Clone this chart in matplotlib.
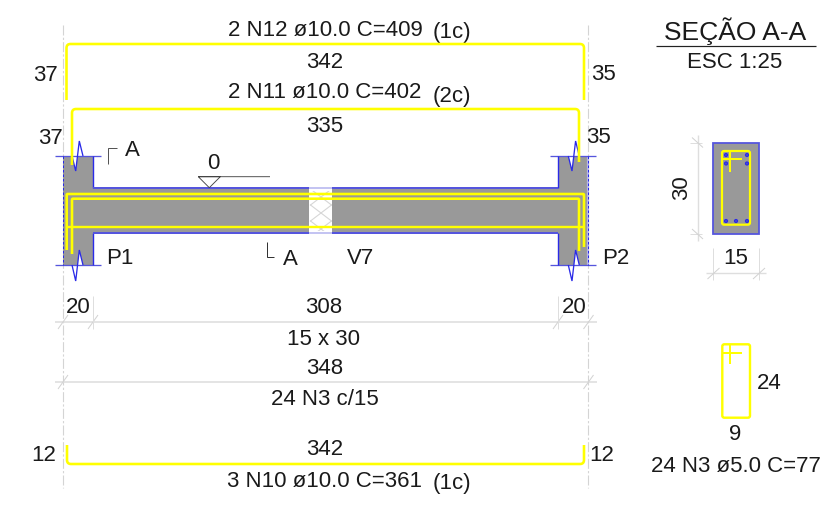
import matplotlib
matplotlib.use('Agg')
import matplotlib.pyplot as plt
from matplotlib.path import Path
from matplotlib.patches import PathPatch, Polygon, Rectangle, Circle, FancyBboxPatch

plt.rcParams['font.family'] = ['Liberation Sans', 'DejaVu Sans']

YELLOW = '#ffff00'
BLUE = '#2a2ae8'
LAVENDER = '#5555dd'
GREY = '#999999'
DIM = '#dedede'
TICK = '#d2d2d2'
INK = '#1a1a1a'

# labels
rebar_labels = ['2 N12 ø10.0 C=409', '2 N11 ø10.0 C=402', '3 N10 ø10.0 C=361']
rebar_layers = ['(1c)', '(2c)', '(1c)']
rebar_lengths = ['342', '335', '342']
hook_left = ['37', '37', '12']
hook_right = ['35', '35', '12']
span_labels = ['20', '308', '20']
beam_label = '15 x 30'
total_label = '348'
stirrup_label = '24 N3 c/15'
stirrup_detail = '24 N3 ø5.0 C=77'
section_title = 'SEÇÃO A-A'
section_scale = 'ESC 1:25'
section_sizes = ['30', '15']
stirrup_sizes = ['24', '9']
element_labels = ['P1', 'V7', 'P2']

# drawing geometry, in reference pixels
col_left = [63, 93]
col_right = [558, 588.5]
col_y = [156, 265]
beam_y = [188, 233]
gap_x = [309.5, 332.5]
bar_x_outer = [66.7, 584]
bar_x_inner = [72, 579]

fig = plt.figure(figsize=(8.28, 5.16), dpi=100)
ax = fig.add_axes([0, 0, 1, 1])
ax.set_xlim(0, 828)
ax.set_ylim(516, 0)
ax.axis('off')


def px(w):
    return w * 0.72


def poly(xs, ys, color, w=1.0, z=3, ls='-', alpha=1.0):
    ax.plot(xs, ys, color=color, lw=px(w), zorder=z, ls=ls, alpha=alpha,
            solid_capstyle='butt', solid_joinstyle='miter')


def bent(pts, color=YELLOW, w=2.6, r=4, z=5):
    # polyline with rounded corners, as the rebar is drawn
    verts = [pts[0]]
    codes = [Path.MOVETO]
    for i in range(1, len(pts) - 1):
        x0, y0 = pts[i - 1]
        x1, y1 = pts[i]
        x2, y2 = pts[i + 1]
        a = ((x0 - x1) ** 2 + (y0 - y1) ** 2) ** 0.5
        b = ((x2 - x1) ** 2 + (y2 - y1) ** 2) ** 0.5
        verts += [(x1 + (x0 - x1) * r / a, y1 + (y0 - y1) * r / a), (x1, y1),
                  (x1 + (x2 - x1) * r / b, y1 + (y2 - y1) * r / b)]
        codes += [Path.LINETO, Path.CURVE3, Path.CURVE3]
    verts.append(pts[-1])
    codes.append(Path.LINETO)
    ax.add_patch(PathPatch(Path(verts, codes), fill=False, edgecolor=color,
                           lw=px(w), zorder=z, capstyle='butt'))


def label(x, y, s, size=16.0, **kw):
    ax.text(x, y + 1.5, s, fontsize=size, color=INK, ha='center', va='center', **kw)


def dim_h(y, x0, x1, ticks):
    poly([x0, x1], [y, y], DIM, 1.6, z=1)
    for t in ticks:
        poly([t - 5, t + 5], [y + 7, y - 7], TICK, 1.0, z=1)


def stirrup(x, y, w, h, lw):
    ax.add_patch(FancyBboxPatch((x + 2, y + 2), w - 4, h - 4, boxstyle='round,pad=2,rounding_size=2',
                                fc='none', ec=YELLOW, lw=px(lw), zorder=3))


# faint reference lines at the column faces
for x in (col_left[0], col_right[1]):
    ax.plot([x, x], [25, 488], color='#d4d4d4', lw=0.8, ls=(0, (9, 2, 2, 2)), zorder=0)

# concrete: beam and the two columns, broken off by the zigzag
ax.add_patch(Rectangle((col_left[1] - 1, beam_y[0]), col_right[0] - col_left[1] + 2,
                       beam_y[1] - beam_y[0], fc=GREY, ec='none', zorder=1))
for left, zx in ((col_left, 72), (col_right, 568.3)):
    ax.add_patch(Polygon([(left[0], col_y[0]), (zx, col_y[0]), (zx + 3.7, col_y[0] + 15),
                          (zx + 5.5, col_y[0]), (left[1], col_y[0]), (left[1], col_y[1]),
                          (zx + 11, col_y[1]), (zx + 7.3, col_y[1] - 15),
                          (zx + 5.5, col_y[1]), (left[0], col_y[1])],
                         fc=GREY, ec='none', zorder=1))

    # break lines
    poly([zx, zx + 3.7, zx + 7.3, zx + 11],
         [col_y[0], col_y[0] + 15, col_y[0] - 15, col_y[0]], BLUE, 1.3, z=4)
    poly([zx, zx + 3.7, zx + 7.3, zx + 11],
         [col_y[1], col_y[1] + 16, col_y[1] - 15, col_y[1]], BLUE, 1.3, z=4)
    for y in col_y:
        poly([left[0] - 8, left[1] + 8], [y, y], LAVENDER, 1.3, z=3)

# outlines of the columns and beam
poly([col_left[1], col_left[1]], [col_y[0], beam_y[0]], BLUE, 1.4, z=3)
poly([col_left[1], col_left[1]], [beam_y[1], col_y[1]], BLUE, 1.4, z=3)
poly([col_right[0], col_right[0]], [col_y[0], beam_y[0]], BLUE, 1.4, z=3)
poly([col_right[0], col_right[0]], [beam_y[1], col_y[1]], BLUE, 1.4, z=3)
for y in beam_y:
    poly([col_left[1], col_right[0]], [y, y], LAVENDER, 2.0, z=3)
poly([col_left[0], col_left[0]], col_y, BLUE, 1.0, z=3, ls=(0, (2.5, 2)))
poly([col_right[1], col_right[1]], col_y, '#b5b5e8', 2.2, z=2)
poly([col_right[1], col_right[1]], col_y, BLUE, 1.0, z=3, ls=(0, (2.5, 2)))

# hatched opening in the beam
ax.add_patch(Rectangle((gap_x[0], beam_y[0] - 1), gap_x[1] - gap_x[0], beam_y[1] - beam_y[0] + 2,
                       fc='white', ec='none', zorder=2))
for k in range(-2, 3):
    y0 = beam_y[0] + 1 + k * 16
    for sign in (1, -1):
        xs = [gap_x[0] + 1, gap_x[1] - 1]
        ys = [y0, y0 + 16] if sign > 0 else [y0 + 16, y0]
        line, = ax.plot(xs, ys, color='#d6d6d6', lw=0.8, zorder=3)
        line.set_clip_path(Rectangle((gap_x[0], beam_y[0] + 3), gap_x[1] - gap_x[0],
                                     beam_y[1] - beam_y[0] - 5, transform=ax.transData))
for y in beam_y:
    poly(gap_x, [y, y], '#c4c4f2', 2.0, z=3)

# rebar in the elevation
bent([(bar_x_outer[0], 250), (bar_x_outer[0], 194), (bar_x_outer[1], 194), (bar_x_outer[1], 247)], r=1)
bent([(bar_x_inner[0], 254), (bar_x_inner[0], 198.7), (bar_x_inner[1], 198.7), (bar_x_inner[1], 251)], r=1)
poly([bar_x_outer[0], 583.5], [227, 227], YELLOW, 2.4, z=5)

# rebar shapes above and below
bent([(66.5, 100), (66.5, 44), (584, 44), (584, 100)])
bent([(72, 165), (72, 109), (579, 109), (579, 162)])
bent([(67, 445), (67, 464), (584, 464), (584, 445)])

# level mark
poly([198.3, 220.3, 209.3, 198.3, 270], [176.7, 176.7, 187.7, 176.7, 176.7], '#444444', 0.9, z=4)
label(213, 162, '0')

# section marks
poly([108.3, 108.3, 116.7], [164, 147.7, 147.7], '#555555', 1.0)
poly([266.7, 266.7, 274], [241.7, 257.3, 257.3], '#333333', 1.0)
label(132, 149, 'A')
label(290, 258, 'A')

# rebar text
for y, y2, yl, s, layer, length in zip((29, 91, 480), (31, 95, 482), (61, 125, 448),
                                       rebar_labels, rebar_layers, rebar_lengths):
    label(325, y, s)
    label(452, y2, layer)
    label(325, yl, length)
for x, y, s in zip((45, 50, 44), (74, 137, 454), hook_left):
    label(x, y, s)
for x, y, s in zip((603, 598, 602), (73, 136, 454), hook_right):
    label(x, y, s)
for x, s in zip((120, 361, 616), element_labels):
    label(x, 257, s)

# dimension lines
dim_h(322, 55, 597, [col_left[0], col_left[1], col_right[0], col_right[1]])
dim_h(382, 55, 597, [col_left[0], col_right[1]])
for x in (col_left[1], col_right[0]):
    poly([x, x], [296, 329], DIM, 1.0, z=1)
for x, s in zip((78, 324, 574), span_labels):
    label(x, 306, s)
label(324, 338, beam_label)
label(325, 367, total_label)
label(325, 398, stirrup_label)

# section A-A
label(735, 30, section_title, size=19)
poly([656, 816], [46, 46], '#222222', 1.2)
label(735, 61, section_scale, size=16)

ax.add_patch(Rectangle((713.5, 142.5), 45.5, 91.5, fc=GREY, ec=LAVENDER, lw=px(1.8), zorder=1))
stirrup(722, 151, 28, 73.7, 2.2)
poly([722, 741.7], [159, 159], YELLOW, 2.0, z=3)
poly([730, 730], [151, 171.7], YELLOW, 2.0, z=3)
for cx, cy in [(726, 155), (747, 155), (726, 163.5), (747, 163.5),
               (726, 221), (736, 221), (747, 221)]:
    ax.add_patch(Circle((cx, cy), 1.5, fc='#5050c8', ec=BLUE, lw=px(1.2), zorder=4))

poly([697.7, 697.7], [135, 241], DIM, 1.4, z=1)
for y in (142.5, 234):
    poly([690, 702], [y, y], DIM, 1.0, z=1)
    poly([692, 703], [y - 5, y + 5], TICK, 1.0, z=1)
ax.text(682, 188, section_sizes[0], fontsize=16, color=INK, rotation=90, ha='center', va='center')
poly([706, 766], [273.3, 273.3], DIM, 1.4, z=1)
for x in (713.5, 759):
    poly([x, x], [248, 280], DIM, 1.0, z=1)
    poly([x - 6, x + 6], [279, 268], TICK, 1.0, z=1)
label(736, 257, section_sizes[1])

# stirrup detail
stirrup(722.3, 344.3, 27.7, 73.4, 2.4)
poly([722, 741.7], [352.7, 352.7], YELLOW, 2.0, z=3)
poly([730, 730], [344, 364], YELLOW, 2.0, z=3)
label(769, 382, stirrup_sizes[0])
label(735, 433, stirrup_sizes[1])
label(736, 465, stirrup_detail)

fig.savefig('out.png', dpi=100)
